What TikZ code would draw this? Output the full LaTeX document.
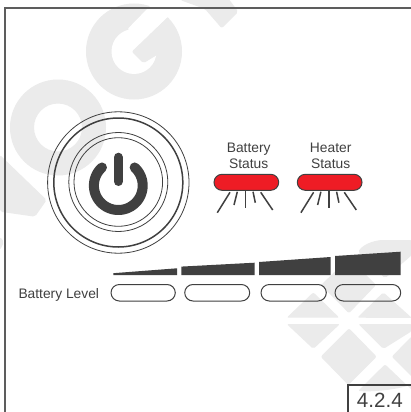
\documentclass[tikz,border=0pt]{standalone}
\usepackage{fontspec}
\setmainfont{Liberation Sans}
\definecolor{ink}{HTML}{404040}
\definecolor{wm}{HTML}{EBEBEB}
\definecolor{ledred}{HTML}{EE1C25}
\tikzset{
  wmark/.style={fill=wm,draw=none,rounded corners=2pt},
  ring/.style={draw=ink,line width=0.8pt},
  ledbox/.style={draw=ink,line width=1pt,fill=ledred,rounded corners=8pt},
  ray/.style={draw=ink,line width=1.5pt},
  wedge/.style={fill=ink,draw=none},
  pill/.style={draw=ink,line width=1pt,rounded corners=8.3pt},
  lbl/.style={text=ink,font=\fontsize{13.8}{15.7}\selectfont,inner sep=0pt,align=center},
}
\begin{document}
\begin{tikzpicture}[x=1pt,y=-1pt]
\useasboundingbox (0,0) rectangle (410,412);
\fill[white] (0,0) rectangle (410,412);
% watermark
\fill[wm] (134,51.5) circle[radius=48pt];
\fill[white] (134,51.5) circle[radius=22.5pt];
\fill[white] (128.3,28.3) -- (150,6) -- (158,0) -- (180,12) -- (168.3,16.7) -- (131.7,51.7) -- cycle;
\path[wmark] (131.7,51.7) -- (143.3,63.3) -- (157,55) -- (172,40) -- (168.3,16.7) -- cycle;
\path[fill=wm,even odd rule] (58,127.5) circle[radius=48pt] (58,127.5) circle[radius=24pt];
\path[wmark] (0,155) -- (46.7,200) -- (35,216.7) -- (0,211.7) -- cycle;
\path[wmark] (0,236.7) -- (4,242) -- (0,250) -- cycle;
\path[wmark] (180,-2) -- (180,0) -- (205,9) -- (221.7,28.3) -- (238.3,11.7) -- (228,-2) -- cycle;
\path[wmark] (286.7,317.7) -- (313.3,292.3) -- (339.3,317.7) -- cycle;
\path[wmark] (357.3,317.7) -- (383.3,292.3) -- (412,318) -- cycle;
\path[wmark] (349,313.3) -- (321,285) -- (349,258) -- (376,285) -- cycle;
\path[wmark] (358,252) .. controls (364,243) and (377,240) .. (385,240) -- (412,240) -- (412,255) -- (385,278.3) -- cycle;
\path[wmark] (286.7,324) -- (340,324) -- (313.3,349) -- cycle;
\path[wmark] (358.3,324) -- (412,324) -- (412,331) -- (383.3,349) -- cycle;
\path[wmark] (320.7,356.7) -- (349,328.3) -- (376.7,356.7) -- (348.3,385) -- cycle;
\path[wmark] (391.7,356.7) -- (412,336) -- (412,377) -- cycle;
\path[wmark] (385,364.3) -- (358,391) .. controls (372,392) and (395,390) .. (412,384.5) -- (412,390) -- cycle;
% frame
\draw[draw=ink!85!white,line width=1.9pt] (5.3,414) -- (5.3,8.3) -- (412,8.3);
% power button
\draw[ring] (118.3,182.5) circle[radius=70.7pt];
\draw[draw=ink,line width=1.5pt] (118.3,182.5) circle[radius=64.5pt];
\draw[ring] (118.3,182) circle[radius=49.5pt];
\draw[ring] (118.3,182) circle[radius=44.3pt];
\draw[draw=ink,line width=10pt,line cap=round] plot[domain=132:408,samples=70,smooth] ({118.3+24.4*cos(\x)},{185.6-24.4*sin(\x)});
\draw[draw=ink,line width=9pt,line cap=round] (118.3,157.2) -- (118.3,181.5);
% LEDs
\draw[ledbox] (214,174.3) rectangle (278.7,190.3);
\draw[ledbox] (297.3,174.3) rectangle (362,190.3);
\foreach \d in {0,83.6}{
  \draw[ray] (230+\d,192.3) -- (217.3+\d,212.7);
  \draw[ray] (237.3+\d,191.7) -- (234+\d,205);
  \draw[ray] (245.3+\d,191) -- (245.3+\d,208.3);
  \draw[ray] (253+\d,191.7) -- (255.3+\d,202.7);
  \draw[ray] (260.7+\d,192.3) -- (272.7+\d,210);
}
% labels
\node[lbl,anchor=base] (bs1) at (248.7,152.3) {Battery};
\node[lbl,anchor=base] (bs2) at (248.7,168) {Status};
\node[lbl,anchor=base] (hs1) at (330.7,152.3) {Heater};
\node[lbl,anchor=base] (hs2) at (330.7,168) {Status};
\node[lbl,anchor=base west] (bl) at (18.3,298.7) {Battery Level};
% level wedges
\fill[wedge] (113.3,275) -- (113.3,273.2) -- (177,268.3) -- (177,275) -- cycle;
\fill[wedge] (181.3,275) -- (181.3,266.6) -- (254.7,262.7) -- (254.7,275) -- cycle;
\fill[wedge] (259,275) -- (259,262) -- (330.7,257) -- (330.7,275) -- cycle;
\fill[wedge] (335,275) -- (335,256) -- (400.7,251.7) -- (400.7,275) -- cycle;
% pills
\draw[pill] (111,284.5) rectangle (175.3,301);
\draw[pill] (184.7,284.5) rectangle (249.7,301);
\draw[pill] (261,284.5) rectangle (326.3,301);
\draw[pill] (335,284.5) rectangle (400.7,301);
% code box
\draw[draw=ink,line width=2pt] (348,414) -- (348,385.3) -- (412,385.3);
\node[lbl,font=\fontsize{20.6}{22}\selectfont,anchor=base west] (code) at (356.7,407) {4.2.4};
\end{tikzpicture}
\end{document}
